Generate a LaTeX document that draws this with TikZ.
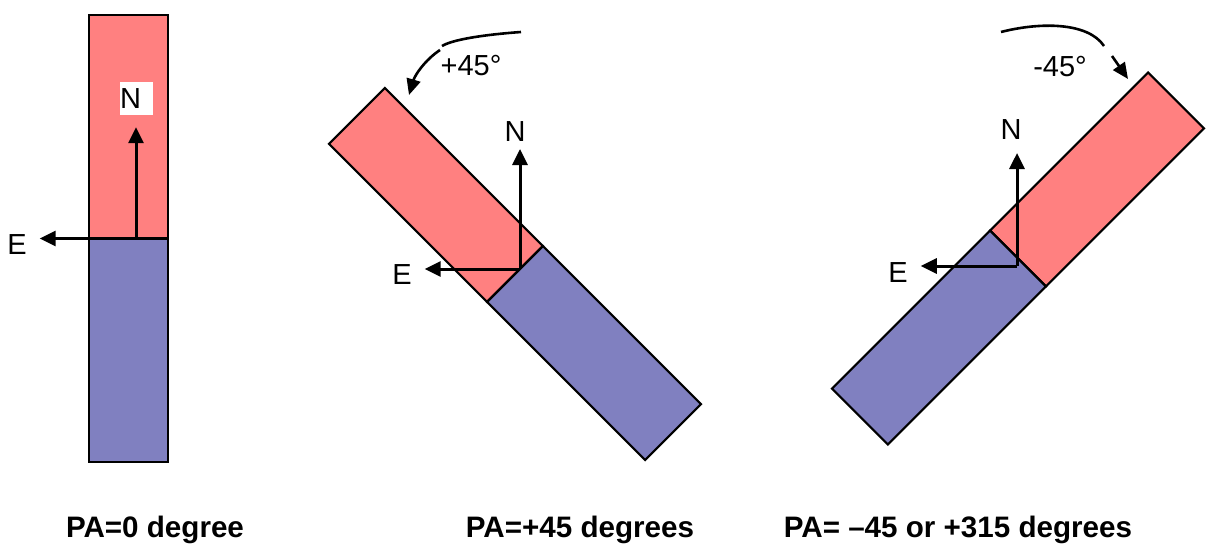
\documentclass[tikz,border=0pt]{standalone}
\usepackage{fontspec}
\setmainfont{Liberation Sans}
\usetikzlibrary{arrows.meta}
\definecolor{barred}{RGB}{255,128,128}
\definecolor{barblue}{RGB}{128,128,192}
\begin{document}
\begin{tikzpicture}[x=0.5pt,y=-0.5pt,
    vec/.style={-{Triangle[length=8pt,width=7.5pt]},line width=1.5pt},
    turn/.style={line width=1.3pt},
    lbl/.style={font=\fontsize{14.5pt}{17pt}\selectfont},
    pa/.style={font=\fontsize{14.8pt}{18pt}\selectfont\bfseries,anchor=base}]
        \useasboundingbox (0,0) rectangle (1213,545);
        \foreach \cx/\cy/\a in {128.5/238.5/0,515/274/45,1018/258.5/-45}{
            \begin{scope}[shift={(\cx,\cy)},rotate=\a,line width=1.1pt]
                \filldraw[fill=barred] (-39.5,-223.5) rectangle (39.5,0);
                \filldraw[fill=barblue] (-39.5,0) rectangle (39.5,223.5);
            \end{scope}}
        \coordinate (o1) at (136,238.5);
        \coordinate (o2) at (520,269);
        \coordinate (o3) at (1017,266);
        \node[lbl,fill=white,inner sep=0pt,minimum height=16.5pt,text width=16.5pt] (n1) at (136.5,98.3) {N};
        \node[lbl] (n2) at (515,132) {N};
        \node[lbl] (n3) at (1011,130) {N};
        \node[lbl] (e1) at (17,245) {E};
        \node[lbl] (e2) at (402,275) {E};
        \node[lbl] (e3) at (898,273) {E};
        \draw[vec,shorten >=6pt] (o1) -- (o1 |- n1.south);
        \draw[vec] (o2) -- (o2 |- n2.south);
        \draw[vec,shorten >=3pt] (o3) -- (o3 |- n3.south);
        \foreach \i in {1,2,3}{\draw[vec,shorten >=3pt] (o\i) -- (o\i -| e\i.east);}
        \node[lbl] (plus) at (471,66) {+45°};
        \node[lbl] (minus) at (1060,67) {-45°};
        \coordinate (p1) at (521,32); \coordinate (p2) at (442,46);
        \coordinate (p3) at (440,50); \coordinate (p4) at (409,95);
        \draw[turn] (p1) .. controls (480,35) and (452,40) .. (p2);
        \draw[turn,-{Triangle[length=8pt,width=7pt]}] (p3) .. controls (425,60) and (415,75) .. (p4);
        \coordinate (m1) at (1001,32); \coordinate (m2) at (1104,46);
        \coordinate (m3) at (1112,56); \coordinate (m4) at (1128,79);
        \draw[turn] (m1) .. controls (1040,22) and (1088,22) .. (m2);
        \draw[turn,-{Triangle[length=8pt,width=7pt]}] (m3) -- (m4);
        \node[pa] (pa1) at (155,537) {PA=0 degree};
        \node[pa] (pa2) at (580,537) {PA=+45 degrees};
        \node[pa] (pa3) at (958,537) {PA= –45 or +315 degrees};
\end{tikzpicture}
\end{document}
